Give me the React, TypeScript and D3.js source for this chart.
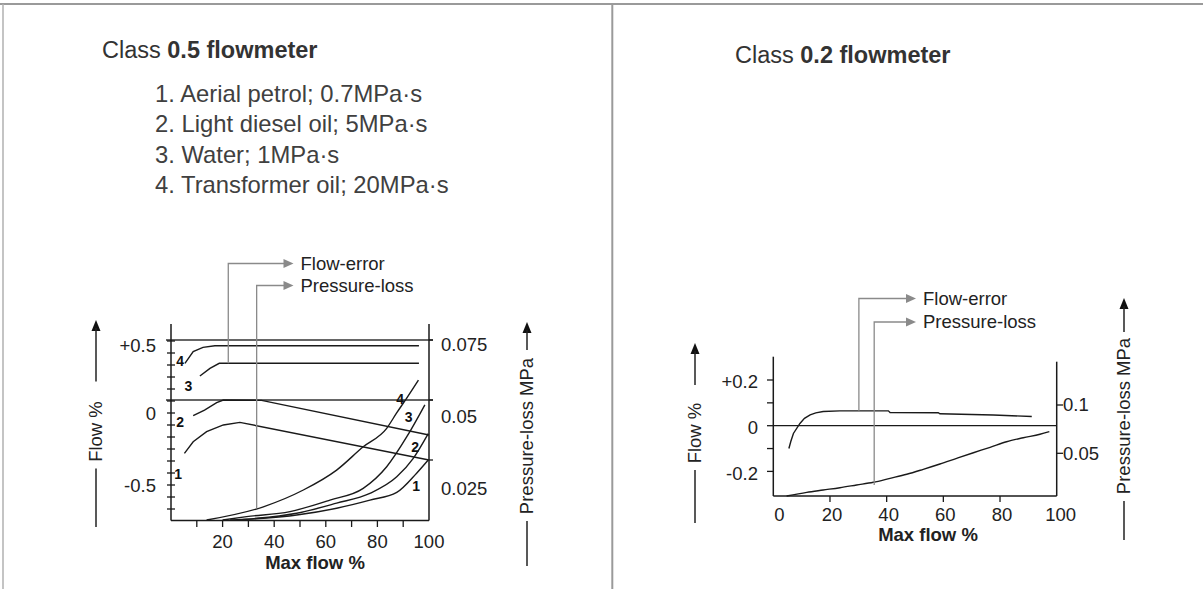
import React from "react";
import * as d3 from "d3";

const FONT = "'Liberation Sans', Arial, Helvetica, sans-serif";
const INK = "#1a1a1a";
const GUIDE = "#8a8a8a";

// ---- panel A: class 0.5 ----
const FLUIDS = [
  "1. Aerial petrol; 0.7MPa·s",
  "2. Light diesel oil; 5MPa·s",
  "3. Water; 1MPa·s",
  "4. Transformer oil; 20MPa·s",
];
const X_LABELS_A = [20, 40, 60, 80, 100];
const X_MINOR_A = [10, 20, 30, 40, 50, 60, 70, 80, 90];
const FLOW_TICKS_A = [0.5, 0, -0.5];
const FLOW_LABELS_A = ["+0.5", "0", "-0.5"];
const LOSS_TICKS_A = [0.075, 0.05, 0.025];
const LOSS_LABELS_A = ["0.075", "0.05", "0.025"];
const LOSS_GRID_A = [0.075, 0.05];

// flow error (%), x = % of max flow
const ERR_A_1 = [[5.2, -0.28], [8.6, -0.2], [13.8, -0.13], [20.3, -0.083], [26.7, -0.065], [100, -0.326]];
const ERR_A_2 = [[8.6, -0.019], [13, 0.02], [17.7, 0.072], [20.3, 0.09], [35.1, 0.088], [100, -0.153]];
const ERR_A_3 = [[11.2, 0.257], [15.1, 0.31], [18.7, 0.345], [96.1, 0.345]];
const ERR_A_4 = [[5.4, 0.345], [8.6, 0.426], [12.4, 0.456], [17, 0.467], [96.1, 0.467]];
// pressure loss (MPa)
const LOSS_A_1 = [[25.5, 0], [35.8, 0.0007], [48.7, 0.0021], [64.2, 0.0049], [77.1, 0.0083], [87.5, 0.0115], [95.2, 0.0195], [99.7, 0.025]];
const LOSS_A_2 = [[22.9, 0], [33.2, 0.0007], [48.7, 0.0028], [64.2, 0.007], [77.1, 0.0111], [87.5, 0.018], [93.9, 0.0257], [99.7, 0.036]];
const LOSS_A_3 = [[20, 0], [29.3, 0.0014], [46.1, 0.0035], [61.6, 0.0083], [74.5, 0.0132], [83.6, 0.0222], [91.4, 0.0347], [98.4, 0.048]];
const LOSS_A_4 = [[13.8, 0], [35.8, 0.0055], [51.3, 0.0125], [64.2, 0.0208], [74.5, 0.0305], [83.6, 0.0382], [87.4, 0.0445], [91.3, 0.0507], [95.9, 0.0583]];

// curve number tags [label, x%, flow]
const TAGS_A = [
  ["4", 3.5, 0.361], ["3", 6.7, 0.188], ["2", 3.5, -0.061], ["1", 2.8, -0.424],
  ["4", 88.8, 0.1], ["3", 92.1, -0.026], ["2", 94.6, -0.234], ["1", 95.0, -0.51],
];
const ARROW_X_A = [22.2, 33.2]; // where the leaders drop (x %)

// ---- panel B: class 0.2 ----
const X_LABELS_B = [0, 20, 40, 60, 80, 100];
const FLOW_TICKS_B = [0.2, 0.1, 0, -0.1, -0.2];
const FLOW_LABELS_B = ["+0.2", "", "0", "", "-0.2"];
const LOSS_TICKS_B = [0.1, 0.05];
const LOSS_LABELS_B = ["0.1", "0.05"];
const ERR_B = [[5.5, -0.1], [6.2, -0.068], [7.1, -0.034], [9.4, 0.01], [11, 0.032], [13, 0.047], [15, 0.056], [17.6, 0.062], [23.5, 0.065], [40.6, 0.065], [41.2, 0.058], [58.2, 0.057], [58.8, 0.052], [77.6, 0.047], [91.2, 0.04]];
const LOSS_B = [[4.7, 0.0058], [11.8, 0.0096], [17.6, 0.012], [23.5, 0.0144], [29.4, 0.0172], [35.3, 0.02], [41.2, 0.0241], [47.1, 0.0283], [52.9, 0.0334], [58.8, 0.0389], [64.7, 0.0448], [70.6, 0.0506], [76.5, 0.0562], [82.3, 0.062], [88.2, 0.0661], [94.1, 0.0697], [97.4, 0.0724]];
const ARROW_X_B = [30.2, 35.6];

function interp(series: number[][], x: number) {
  for (let i = 1; i < series.length; i++) {
    const [x0, y0] = series[i - 1];
    const [x1, y1] = series[i];
    if (x >= x0 && x <= x1) return y0 + ((y1 - y0) * (x - x0)) / (x1 - x0);
  }
  return series[series.length - 1][1];
}

const Leader = ({ x, yTop, yEnd, tipX, label }: any) => (
  <g>
    <path d={`M${x},${yEnd}V${yTop}H${tipX - 9}`} fill="none" stroke={GUIDE} strokeWidth={1.3} />
    <path d={`M${tipX},${yTop}l-10,-4.5v9z`} fill={GUIDE} />
    <text x={tipX + 7} y={yTop} dy="0.35em" fontSize={18.5} fill="#222">{label}</text>
  </g>
);

const AxisTitle = ({ x, cy, text, arrowTop, lineTop, lineBottom, halfLen }: any) => (
  <g>
    <path d={`M${x},${arrowTop}l-4.5,11h9z`} fill="#111" />
    <line x1={x} x2={x} y1={arrowTop + 8} y2={lineTop} stroke="#222" strokeWidth={1.5} />
    <line x1={x} x2={x} y1={cy + halfLen + 7} y2={lineBottom} stroke="#222" strokeWidth={1.5} />
    <text transform={`translate(${x + 6},${cy}) rotate(-90)`} textAnchor="middle" fontSize={18.5} fill="#222">{text}</text>
  </g>
);

const PanelA = () => {
  const x = d3.scaleLinear().domain([0, 100]).range([171, 429]);
  const yF = d3.scaleLinear().domain([0, 0.5]).range([413, 341]);
  const yP = d3.scaleLinear().domain([0, 0.075]).range([520, 340]);
  const errLine = d3.line<number[]>().x((d) => x(d[0])).y((d) => yF(d[1]));
  const lossLine = d3.line<number[]>().x((d) => x(d[0])).y((d) => yP(d[1])).curve(d3.curveMonotoneX);
  const minor = d3.range(-8, 7).map((k) => k / 12);
  return (
    <g fontFamily={FONT}>
      {/* grid lines from the pressure axis */}
      {LOSS_GRID_A.map((p) => (
        <line key={p} x1={166} x2={433} y1={yP(p)} y2={yP(p)} stroke="#333" strokeWidth={1.3} />
      ))}
      {/* frame */}
      <line x1={171} x2={171} y1={324} y2={520.5} stroke={INK} strokeWidth={1.5} />
      <line x1={429} x2={429} y1={324} y2={520.5} stroke={INK} strokeWidth={1.5} />
      <line x1={171} x2={429} y1={520.5} y2={520.5} stroke={INK} strokeWidth={1.5} />
      {minor.map((f, i) => (
        <line key={i} x1={167} x2={175} y1={yF(f)} y2={yF(f)} stroke={INK} strokeWidth={1.3} />
      ))}
      {X_MINOR_A.map((v) => (
        <line key={v} x1={x(v)} x2={x(v)} y1={520.5} y2={527} stroke={INK} strokeWidth={1.3} />
      ))}
      {LOSS_TICKS_A.map((p) => (
        <line key={p} x1={429} x2={433} y1={yP(p)} y2={yP(p)} stroke={INK} strokeWidth={1.3} />
      ))}
      {X_LABELS_A.map((v) => (
        <text key={v} x={x(v)} y={542} dy="0.35em" textAnchor="middle" fontSize={18.5} fill="#222">{v}</text>
      ))}
      {FLOW_TICKS_A.map((f, i) => (
        <text key={f} x={156} y={yF(f) + (i === 0 ? 5 : 1)} dy="0.35em" textAnchor="end" fontSize={18.5} fill="#222">{FLOW_LABELS_A[i]}</text>
      ))}
      {LOSS_LABELS_A.map((t, i) => (
        <text key={t} x={441} y={yF(FLOW_TICKS_A[i]) + 4} dy="0.35em" fontSize={18.5} fill="#222">{t}</text>
      ))}
      <text x={315} y={563} dy="0.35em" textAnchor="middle" fontSize={18.5} fontWeight="bold" fill="#222">Max flow %</text>
      {/* curves */}
      {[ERR_A_1, ERR_A_2, ERR_A_3, ERR_A_4].map((s, i) => (
        <path key={"e" + i} d={errLine(s) || ""} fill="none" stroke={INK} strokeWidth={1.4} />
      ))}
      {[LOSS_A_1, LOSS_A_2, LOSS_A_3, LOSS_A_4].map((s, i) => (
        <path key={"l" + i} d={lossLine(s) || ""} fill="none" stroke={INK} strokeWidth={1.4} />
      ))}
      {TAGS_A.map(([t, xv, fv], i) => (
        <text key={i} x={x(xv as number)} y={yF(fv as number)} dy="0.35em" textAnchor="middle" fontSize={14} fontWeight="bold" fill="#111">{t}</text>
      ))}
      <Leader x={x(ARROW_X_A[0])} yTop={263.5} yEnd={yF(interp(ERR_A_3, ARROW_X_A[0]))} tipX={293.5} label="Flow-error" />
      <Leader x={x(ARROW_X_A[1])} yTop={285.5} yEnd={yP(interp(LOSS_A_4, ARROW_X_A[1]))} tipX={293.5} label="Pressure-loss" />
      <AxisTitle x={96} cy={431.5} text="Flow %" arrowTop={320} lineTop={381.5} lineBottom={527} halfLen={30} />
      <AxisTitle x={527} cy={436} text="Pressure-loss MPa" arrowTop={322} lineTop={350} lineBottom={566} halfLen={78} />
    </g>
  );
};

const PanelB = () => {
  const x = d3.scaleLinear().domain([0, 100]).range([773.3, 1056.7]);
  const yF = d3.scaleLinear().domain([0, 0.2]).range([425.7, 380]);
  const yP = d3.scaleLinear().domain([0.05, 0.1]).range([453.3, 405]);
  const errLine = d3.line<number[]>().x((d) => x(d[0])).y((d) => yF(d[1]));
  const lossLine = d3.line<number[]>().x((d) => x(d[0])).y((d) => yP(d[1])).curve(d3.curveMonotoneX);
  return (
    <g fontFamily={FONT}>
      <line x1={773.3} x2={773.3} y1={356.7} y2={496} stroke={INK} strokeWidth={1.5} />
      <line x1={1056.7} x2={1056.7} y1={361.7} y2={496} stroke={INK} strokeWidth={1.5} />
      <line x1={773.3} x2={1056.7} y1={496} y2={496} stroke={INK} strokeWidth={1.5} />
      <line x1={773.3} x2={1056.7} y1={yF(0)} y2={yF(0)} stroke={INK} strokeWidth={1.3} />
      {FLOW_TICKS_B.map((f, i) => (
        <g key={f}>
          <line x1={767} x2={773.3} y1={yF(f)} y2={yF(f)} stroke={INK} strokeWidth={1.3} />
          <text x={758} y={yF(f) + 2} dy="0.35em" textAnchor="end" fontSize={18.5} fill="#222">{FLOW_LABELS_B[i]}</text>
        </g>
      ))}
      {LOSS_TICKS_B.map((p, i) => (
        <g key={p}>
          <line x1={1056.7} x2={1063} y1={yP(p)} y2={yP(p)} stroke={INK} strokeWidth={1.3} />
          <text x={1063} y={yP(p)} dy="0.35em" fontSize={18.5} fill="#222">{LOSS_LABELS_B[i]}</text>
        </g>
      ))}
      {X_LABELS_B.map((v) => (
        <g key={v}>
          {v > 0 && v < 100 && <line x1={x(v)} x2={x(v)} y1={496} y2={502} stroke={INK} strokeWidth={1.3} />}
          <text x={x(v) + (v === 0 ? 6 : v === 100 ? 4 : 2)} y={515} dy="0.35em" textAnchor="middle" fontSize={18.5} fill="#222">{v}</text>
        </g>
      ))}
      <text x={928} y={535} dy="0.35em" textAnchor="middle" fontSize={18.5} fontWeight="bold" fill="#222">Max flow %</text>
      <path d={errLine(ERR_B) || ""} fill="none" stroke={INK} strokeWidth={1.4} />
      <path d={lossLine(LOSS_B) || ""} fill="none" stroke={INK} strokeWidth={1.4} />
      <Leader x={x(ARROW_X_B[0])} yTop={298.5} yEnd={yF(interp(ERR_B, ARROW_X_B[0]))} tipX={916} label="Flow-error" />
      <Leader x={x(ARROW_X_B[1])} yTop={322} yEnd={yP(interp(LOSS_B, ARROW_X_B[1])) + 3} tipX={916} label="Pressure-loss" />
      <AxisTitle x={695} cy={433} text="Flow %" arrowTop={343} lineTop={385} lineBottom={523} halfLen={30} />
      <AxisTitle x={1124} cy={416} text="Pressure-loss MPa" arrowTop={298} lineTop={332} lineBottom={540} halfLen={78} />
    </g>
  );
};

export default function App() {
  return (
    <svg width={1203} height={589} style={{ position: "absolute", left: 0, top: 0, background: "#fff" }}>
      <rect width={1203} height={589} fill="#fff" />
      <line x1={0} x2={1203} y1={4} y2={4} stroke="#9a9a9a" strokeWidth={2} />
      <line x1={3} x2={3} y1={4} y2={589} stroke="#b0b0b0" strokeWidth={1.5} />
      <line x1={612.3} x2={612.3} y1={4} y2={589} stroke="#9a9a9a" strokeWidth={2} />
      <g fontFamily={FONT} fill="#333">
        <text x={102} y={50} dy="0.35em" fontSize={23.5}>
          Class <tspan fontWeight="bold">0.5 flowmeter</tspan>
        </text>
        {FLUIDS.map((t, i) => (
          <text key={t} x={155} y={93.3 + i * 30.6} dy="0.35em" fontSize={23.8} fill="#404040">{t}</text>
        ))}
        <text x={735} y={55} dy="0.35em" fontSize={23.5}>
          Class <tspan fontWeight="bold">0.2 flowmeter</tspan>
        </text>
      </g>
      <PanelA />
      <PanelB />
    </svg>
  );
}
